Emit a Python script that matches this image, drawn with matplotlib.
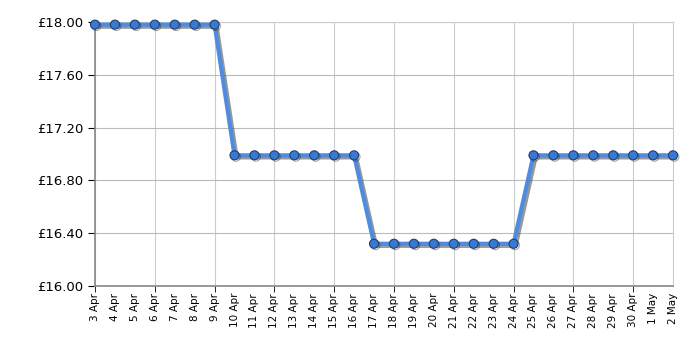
import matplotlib
matplotlib.use('Agg')
import matplotlib.pyplot as plt
import matplotlib.patheffects as pe

dates = ['3 Apr', '4 Apr', '5 Apr', '6 Apr', '7 Apr', '8 Apr', '9 Apr',
         '10 Apr', '11 Apr', '12 Apr', '13 Apr', '14 Apr', '15 Apr', '16 Apr',
         '17 Apr', '18 Apr', '19 Apr', '20 Apr', '21 Apr', '22 Apr', '23 Apr', '24 Apr',
         '25 Apr', '26 Apr', '27 Apr', '28 Apr', '29 Apr', '30 Apr', '1 May', '2 May']
prices = [17.98] * 7 + [16.99] * 7 + [16.32] * 8 + [16.99] * 8
y_ticks = [16.00, 16.40, 16.80, 17.20, 17.60, 18.00]

fig = plt.figure(figsize=(7, 3.5), dpi=100)
ax = fig.add_axes([95 / 700, 64 / 350, 578 / 700, 264 / 350])

x = list(range(len(dates)))
line_shadow = [pe.SimpleLineShadow(offset=(1.5, -1.5), shadow_color='#333333', alpha=0.5), pe.Normal()]
dot_shadow = [pe.SimpleLineShadow(offset=(1, -1), shadow_color='#222222', alpha=0.4), pe.Normal()]
ax.plot(x, prices, color='#4f8be0', lw=3, zorder=3, clip_on=False, path_effects=line_shadow)
ax.plot(x, prices, ls='none', marker='o', ms=6.5, mfc='#3b78cf', mec='#1f3f73', mew=0.8,
        zorder=4, clip_on=False, path_effects=dot_shadow)

ax.set_xlim(0, len(dates) - 1)
ax.set_ylim(16.0, 18.0)
ax.set_yticks(y_ticks)
ax.set_yticklabels(['£%.2f' % v for v in y_ticks], fontsize=9.5)
ax.xaxis.remove_overlapping_locs = False
ax.set_xticks(x)
ax.set_xticklabels(dates, rotation=90, fontsize=7.5)
ax.set_xticks(x[::3], minor=True)
ax.tick_params(axis='x', which='major', length=0, pad=5)
ax.tick_params(axis='x', which='minor', length=4, color='black')
ax.tick_params(axis='y', length=5, color='black')

ax.grid(True, axis='y', which='major', color='#bbbbbb', lw=0.8)
ax.grid(True, axis='x', which='minor', color='#cccccc', lw=0.8)
ax.grid(False, axis='x', which='major')
for s in ['left', 'bottom']:
    ax.spines[s].set_color('#888888')
    ax.spines[s].set_linewidth(1.2)
for s in ['top', 'right']:
    ax.spines[s].set_color('#cccccc')
    ax.spines[s].set_linewidth(0.8)
ax.set_axisbelow(True)

plt.savefig('out.png', dpi=100)
